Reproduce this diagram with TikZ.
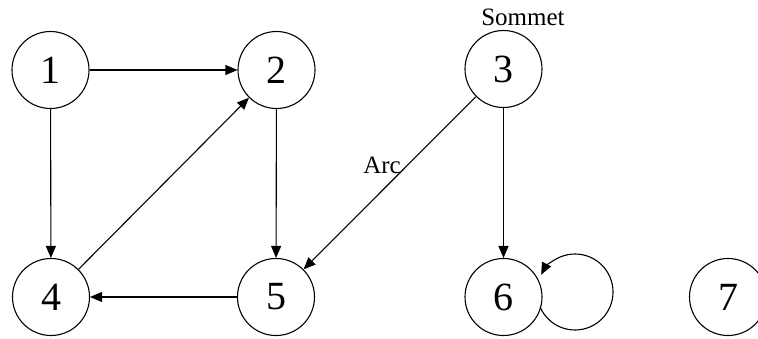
\documentclass[tikz,border=0pt]{standalone}
\usepackage{fontspec}
\setmainfont{Liberation Serif}
\usetikzlibrary{arrows.meta,calc}
\begin{document}
\begin{tikzpicture}[x=1pt,y=1pt,
  vertex/.style={draw,circle,line width=1.1pt,minimum size=77pt,inner sep=0pt,
    font=\fontsize{40}{48}\selectfont},
  arc/.style={line width=1.1pt,-{Triangle[length=12pt,width=10pt]}},
  lbl/.style={font=\fontsize{25}{30}\selectfont,inner sep=0pt}]
  \useasboundingbox (0,0) rectangle (758,338);
  % vertices
  \node[vertex] (n1) at (50.5,268) {1};
  \node[vertex] (n2) at (276.5,268) {2};
  \node[vertex] (n3) at (503.5,269) {3};
  \node[vertex] (n4) at (51,41) {4};
  \node[vertex] (n5) at (276,41) {5};
  \node[vertex] (n6) at (503.5,41) {6};
  \node[vertex] (n7) at (728,41) {7};
  % labels
  \node[lbl] (sommet) at (523,321) {Sommet};
  \node[lbl] (arclbl) at (382,173) {Arc};
  % arcs
  \draw[arc] (n1) -- (n2);
  \draw[arc] (n1) -- (n4);
  \draw[arc] (n4) -- (n2);
  \draw[arc] (n2) -- (n5);
  \draw[arc] (n5) -- (n4);
  \draw[arc] (n3) -- (n5);
  \draw[arc] (n3) -- (n6);
  % self-loop on vertex 6
  \coordinate (loopc) at (575,46);
  \draw[arc] ($(loopc)+(203:38)$) arc[start angle=203,end angle=513,radius=38];
\end{tikzpicture}
\end{document}
